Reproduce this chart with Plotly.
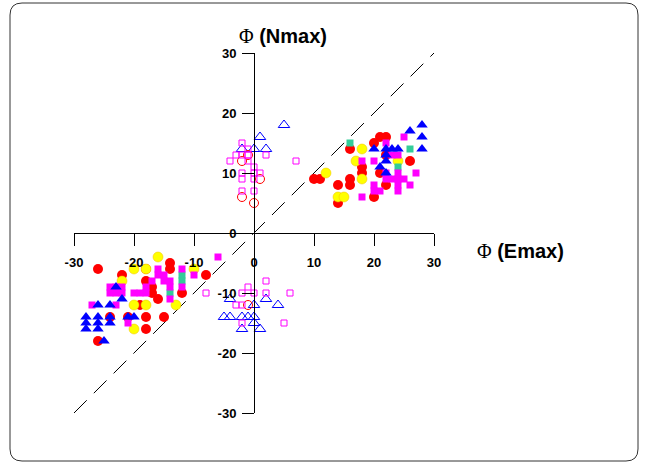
import plotly.graph_objects as go

# ---------------- data ----------------
red_x = [21, 22, 20, 16, 22, 26, 18, 18, 21, 10, 11, 16, 16, 14, 22, 20, 14,
         -26, -22, -18, -14, -14, -8, -18, -17, -17, -16, -12, -19, -21, -24, -18, -18, -15, -26]
red_y = [16, 16, 15, 14, 13, 12, 11, 10, 10, 9, 9, 9, 8, 8, 8, 6, 5,
         -6, -7, -6, -5, -6, -7, -8, -9, -10, -11, -10, -12, -14, -14, -14, -16, -14, -18]

yel_x = [18, 17, 24, 12, 18, 14, 15,
         -16, -20, -18, -10, -22, -20, -18, -13, -20]
yel_y = [14, 12, 12, 10, 9, 6, 6,
         -4, -6, -6, -6, -8, -12, -12, -12, -16]

teal_x = [16, 26, 24, -12, -12, -14]
teal_y = [15, 14, 11, -7, -8, -10]

mag_x = [25, 22, 23, 24, 20, 18, 22, 22, 24, 24, 24, 24, 23, 25, 27, 26, 20, 20, 21, 18,
         -24, -23, -22, -24, -23, -22, -27, -23, -19, -18, -18, -16, -16, -15, -15, -14, -14,
         -12, -12, -10, -14, -21, -6, -17, -20]
mag_y = [16, 15, 13, 13, 12, 12, 10, 9, 10, 9, 8, 7, 9, 9, 10, 8, 8, 7, 7, 6,
         -9, -9, -9, -10, -10, -10, -12, -12, -10, -9, -10, -6, -7, -7, -8, -8, -9,
         -6, -9, -7, -11, -15, -4, -8, -10]

blue_x = [28, 26, 28, 20, 22, 23, 24, 28, 22, 22, 21, 22,
          -23, -22, -26, -24, -28, -28, -28, -26, -26, -26, -24, -24, -21, -20, -25]
blue_y = [18, 17, 16, 14, 14, 14, 14, 14, 13, 12, 11, 10,
          -9, -11, -12, -12, -14, -15, -16, -14, -15, -16, -14, -15, -14, -14, -18]

bopen_x = [5, 1, -2, 0, 2, -4, 0, 2, 4, -5, -4, -2, -1, 0, 0, -2, 1]
bopen_y = [18, 16, 14, 14, 14, -11, -12, -11, -12, -14, -14, -14, -14, -14, -15, -16, -16]

ropen_x = [-1, -2, 1, -2, 0, -1]
ropen_y = [13, 12, 9, 6, 5, -12]

mopen_x = [-2, -3, -2, -1, -1, -4, -1, 2, 7, -2, 0, 0, 1, -2, 0, -2, 0,
           -1, 2, -8, -2, 0, 2, 6, -3, -2, -2, 5]
mopen_y = [15, 13, 13, 14, 13, 12, 12, 13, 12, 10, 11, 10, 10, 9, 9, 7, 7,
           -9, -8, -10, -10, -10, -10, -10, -12, -12, -15, -15]

diag = [-30, 30]
ticks = [-30, -20, -10, 0, 10, 20, 30]

# ---------------- figure ----------------
fig = go.Figure()
fig.add_trace(go.Scatter(x=diag, y=diag, mode="lines",
                         line=dict(color="black", width=1, dash="18px,10px"), hoverinfo="skip"))
fig.add_trace(go.Scatter(x=red_x, y=red_y, mode="markers",
                         marker=dict(symbol="circle", size=10, color="#FF0000")))
fig.add_trace(go.Scatter(x=yel_x, y=yel_y, mode="markers",
                         marker=dict(symbol="circle", size=10, color="#FFFF00",
                                     line=dict(color="#F0C000", width=0.5))))
fig.add_trace(go.Scatter(x=teal_x, y=teal_y, mode="markers",
                         marker=dict(symbol="square", size=7, color="#33CC99")))
fig.add_trace(go.Scatter(x=mag_x, y=mag_y, mode="markers",
                         marker=dict(symbol="square", size=7, color="#FF00FF")))
fig.add_trace(go.Scatter(x=blue_x, y=blue_y, mode="markers",
                         marker=dict(symbol="triangle-up", size=10, color="#0000FF")))
fig.add_trace(go.Scatter(x=bopen_x, y=bopen_y, mode="markers",
                         marker=dict(symbol="triangle-up-open", size=10, color="#0000FF",
                                     line=dict(width=1))))
fig.add_trace(go.Scatter(x=ropen_x, y=ropen_y, mode="markers",
                         marker=dict(symbol="circle-open", size=9, color="#FF0000",
                                     line=dict(width=1))))
fig.add_trace(go.Scatter(x=mopen_x, y=mopen_y, mode="markers",
                         marker=dict(symbol="square-open", size=6, color="#FF00FF",
                                     line=dict(width=1))))

axfont = dict(family="Liberation Sans, Arial", size=13, color="black", weight="bold")
common = dict(range=[-30, 30], tickvals=ticks, ticktext=[str(t) for t in ticks],
              ticks="outside", ticklen=12, tickwidth=1, tickcolor="black",
              showline=True, linecolor="black", linewidth=1, showgrid=False,
              zeroline=False, anchor="free", position=0.5, tickfont=axfont,
              fixedrange=True)
fig.update_layout(
    width=645, height=464,
    margin=dict(l=74, r=211, t=53, b=51),
    paper_bgcolor="white", plot_bgcolor="rgba(0,0,0,0)",
    showlegend=False,
    xaxis=dict(common, ticklabelstandoff=5),
    yaxis=dict(common, ticklabelstandoff=3),
)

def px(p):
    return (p - 74) / 360.0

def py(p):
    return (413 - p) / 360.0

L, R, T, B = px(10), px(638), py(3), py(461)
r = 12 / 360.0
path = (f"M {L + r},{T} L {R - r},{T} Q {R},{T} {R},{T - r} L {R},{B + r} "
        f"Q {R},{B} {R - r},{B} L {L + r},{B} Q {L},{B} {L},{B + r} "
        f"L {L},{T - r} Q {L},{T} {L + r},{T} Z")
fig.add_shape(type="path", path=path, xref="paper", yref="paper",
              line=dict(color="#333333", width=1), layer="below")

titlefont = dict(family="Liberation Sans, Arial", size=20, color="black")
fig.add_annotation(x=px(520), y=py(251), xref="paper", yref="paper", showarrow=False,
                   xanchor="center", yanchor="middle",
                   text="<span style='font-family:Liberation Serif'>Φ</span> <b>(Emax)</b>",
                   font=titlefont)
fig.add_annotation(x=px(283), y=py(36), xref="paper", yref="paper", showarrow=False,
                   xanchor="center", yanchor="middle",
                   text="<span style='font-family:Liberation Serif'>Φ</span> <b>(Nmax)</b>",
                   font=titlefont)

fig.write_html("out.html")
